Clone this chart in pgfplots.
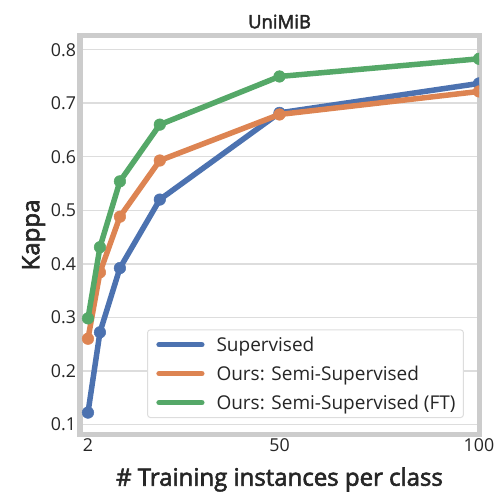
\documentclass[border=0pt]{standalone}
\usepackage{pgfplots}
\pgfplotsset{compat=1.18}
\usepackage{fontspec}
\setmainfont{Open Sans}
\newfontfamily\semib[FakeBold=2.5]{Open Sans}
\definecolor{sbblue}{HTML}{4C72B0}
\definecolor{sborange}{HTML}{DD8452}
\definecolor{sbgreen}{HTML}{55A868}
\definecolor{txt}{HTML}{262626}
\definecolor{frame}{HTML}{CCCCCC}
\definecolor{gridc}{HTML}{DDDDDD}
\begin{document}
\begin{tikzpicture}
\begin{axis}[
  scale only axis,
  width=399pt, height=398pt,
  xmin=0, xmax=100, ymin=0.082, ymax=0.8256,
  xtick={2,50,100},
  ytick={0.1,0.2,0.3,0.4,0.5,0.6,0.7,0.8},
  yticklabel style={/pgf/number format/fixed,/pgf/number format/precision=1,/pgf/number format/fixed zerofill},
  /pgf/number format/assume math mode=true,
  tick style={draw=none},
  ticklabel style={font=\fontsize{17.8}{21}\selectfont, text=txt},
  xticklabel style={yshift=-1pt},
  yticklabel style={xshift=-0.5pt},
  ymajorgrids,
  grid style={gridc, line width=1.5pt},
  axis line style={frame, line width=5pt},
  title={UniMiB},
  title style={font=\fontsize{18.5}{22}\selectfont\semib, text=txt, yshift=-2pt},
  xlabel={\# Training instances per class},
  ylabel={Kappa},
  label style={font=\fontsize{24}{28}\selectfont\semib, text=txt},
  xlabel style={yshift=-9pt},
  ylabel style={yshift=-1pt},
  clip marker paths=true,
  every axis plot/.append style={line width=5.5pt, mark=*, mark size=5.8pt, mark options={solid, line width=0.5pt}},
  legend style={at={(rel axis cs:0.168,0.040)}, anchor=south west,
    font=\fontsize{19}{22}\selectfont, text=txt,
    draw=gridc, line width=1pt, rounded corners=3pt, fill=white,
    row sep=9pt, inner xsep=6pt, inner ysep=5pt},
  legend cell align=left,
  legend image code/.code={\draw[line width=5.5pt, line cap=round] (0.1cm,0cm) -- (1.6cm,0cm); \path (0cm,0cm) (1.95cm,0cm);},
]
\addplot[sbblue] coordinates {(2,0.122) (5,0.272) (10,0.392) (20,0.520) (50,0.682) (100,0.737)};
\addlegendentry{Supervised}
\addplot[sborange] coordinates {(2,0.260) (5,0.384) (10,0.488) (20,0.593) (50,0.679) (100,0.722)};
\addlegendentry{Ours: Semi-Supervised}
\addplot[sbgreen] coordinates {(2,0.298) (5,0.431) (10,0.554) (20,0.660) (50,0.750) (100,0.783)};
\addlegendentry{Ours: Semi-Supervised (FT)}
\end{axis}
\pgfresetboundingbox
\path[use as bounding box] ([xshift=-80pt,yshift=-59pt]current axis.south west) rectangle ([xshift=16pt,yshift=36pt]current axis.north east);
\end{tikzpicture}
\end{document}
